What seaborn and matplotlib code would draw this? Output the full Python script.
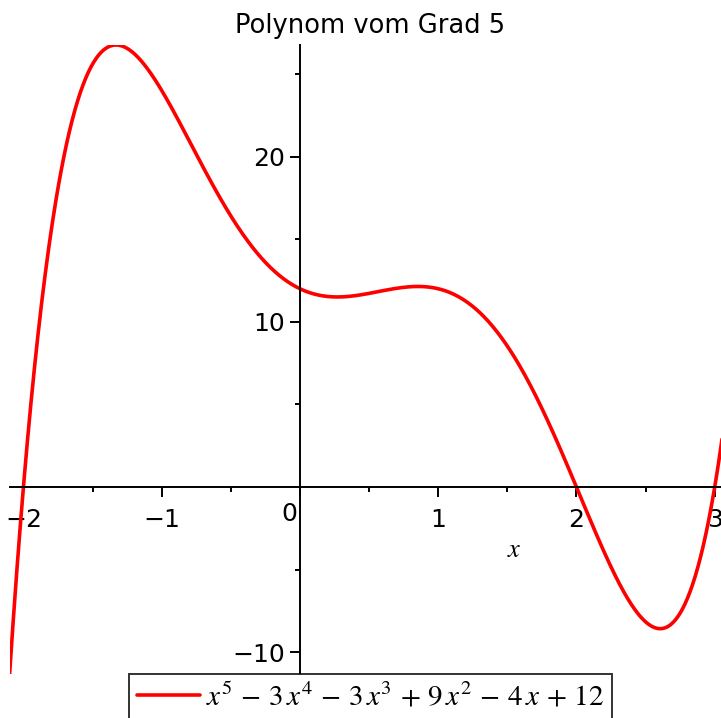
import seaborn as sns
import matplotlib.pyplot as plt
import numpy as np

# polynomial coefficients (highest power first), as in the legend
coeffs = [1, -3, -3, 9, -4, 12]
x_min, x_max = -2.1, 3.06
x_ticks = [-2, -1, 0, 1, 2, 3]
x_tick_labels = ["\u22122", "\u22121", "", "1", "2", "3"]
y_ticks = [-10, 10, 20]
y_tick_labels = ["\u221210", "10", "20"]
title = "Polynom vom Grad 5"
legend_label = r"$x^5\,-\,3\,x^4\,-\,3\,x^3\,+\,9\,x^2\,-\,4\,x\,+\,12$"

x = np.linspace(x_min, x_max, 800)
y = np.polyval(coeffs, x)

sns.set_style("white")
plt.rcParams['font.family'] = ['DejaVu Sans']
plt.rcParams['mathtext.fontset'] = 'stix'
plt.rcParams['text.color'] = 'black'
plt.rcParams['xtick.color'] = 'black'
plt.rcParams['ytick.color'] = 'black'

fig = plt.figure(figsize=(7.21, 7.18), dpi=100)
ax = fig.add_axes([9.6 / 721, 1 - 674 / 718, (723 - 9.6) / 721, 629 / 718])

sns.lineplot(x=x, y=y, ax=ax, color="red", linewidth=2.6, label=legend_label)
ax.set_xlim(x_min, x_max)
ax.set_ylim(y.min(), y.max())

# axes through the origin
for side in ["top", "right"]:
    ax.spines[side].set_visible(False)
for side in ["left", "bottom"]:
    ax.spines[side].set_position(("data", 0))
    ax.spines[side].set_linewidth(1.4)
    ax.spines[side].set_color("black")

ax.set_xticks(x_ticks)
ax.set_xticklabels(x_tick_labels)
ax.set_xticks(np.arange(-1.5, 3, 1.0), minor=True)
ax.set_yticks(y_ticks)
ax.set_yticklabels(y_tick_labels)
ax.set_yticks([-5, 5, 15, 25], minor=True)
ax.tick_params(axis="both", which="major", direction="out", length=7, width=1.4,
               labelsize=18, color="black", labelcolor="black", bottom=True, left=True)
ax.tick_params(axis="both", which="minor", direction="out", length=3.5, width=1.4,
               color="black", bottom=True, left=True)
ax.tick_params(axis="x", pad=8)
ax.text(-0.08, -0.9, "0", fontsize=18, ha="center", va="top", color="black")

ax.text(1.55, -3.8, r"$x$", fontsize=19, ha="center", va="center", color="black")
ax.set_xlabel("")
ax.set_ylabel("")

fig.text(370 / 721, 1 - 26 / 718, title, fontsize=18.5, ha="center", va="center",
         color="black")

leg = ax.legend(loc="upper left", bbox_to_anchor=(129 / 721, 1 - 674 / 718),
                bbox_transform=fig.transFigure, fontsize=21, frameon=True,
                fancybox=False, edgecolor="black", handlelength=2.15,
                handletextpad=0.2, borderpad=0.28, borderaxespad=0)
leg.get_frame().set_linewidth(1.4)

fig.savefig("out.png", dpi=100)
